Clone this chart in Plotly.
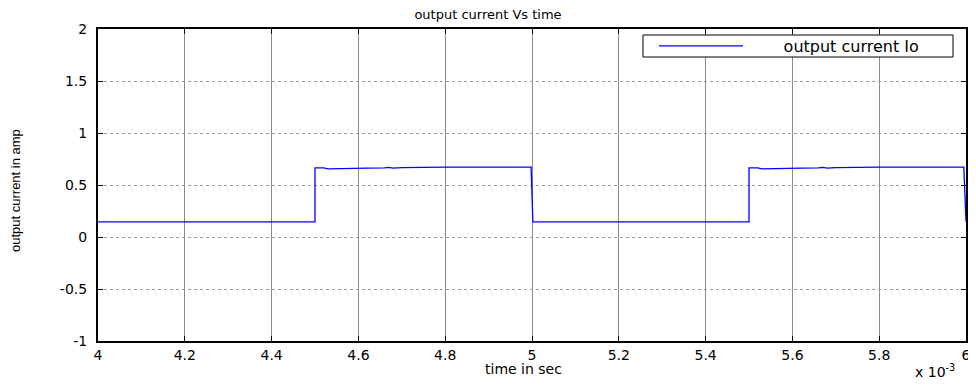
import plotly.graph_objects as go

# time axis values in units of 1e-3 s
time_ms = [4.0, 4.5, 4.5, 4.52, 4.53, 4.6, 4.62, 4.66, 4.67, 4.68, 4.7, 4.8, 4.998, 5.002,
           5.5, 5.5, 5.52, 5.53, 5.6, 5.62, 5.66, 5.67, 5.68, 5.7, 5.8, 5.995, 6.0]
current_amp = [0.145, 0.145, 0.665, 0.665, 0.656, 0.656, 0.662, 0.665, 0.669, 0.663, 0.668, 0.671, 0.671, 0.145,
               0.145, 0.665, 0.665, 0.656, 0.656, 0.662, 0.665, 0.669, 0.663, 0.668, 0.671, 0.671, 0.15]

x_ticks = [4.0, 4.2, 4.4, 4.6, 4.8, 5.0, 5.2, 5.4, 5.6, 5.8, 6.0]
x_tick_labels = ["4", "4.2", "4.4", "4.6", "4.8", "5", "5.2", "5.4", "5.6", "5.8", "6"]
y_ticks = [-1, -0.5, 0, 0.5, 1, 1.5, 2]
y_tick_labels = ["-1", "-0.5", "0", "0.5", "1", "1.5", "2"]

FONT = "DejaVu Sans, Liberation Sans, Arial, sans-serif"
NB = "\u00a0"

# The page body has an 8px margin; the figure is laid out in its own coordinates.
W, H = 976, 385
ML, MT, MR, MB = 90, 21, 18, 52
PW = W - ML - MR
PH = H - MT - MB

def px_x(page_x):
    return (page_x - 8 - ML) / PW

def px_y(page_y):
    return (H - MB - (page_y - 8)) / PH

fig = go.Figure()
fig.add_trace(go.Scatter(
    x=time_ms, y=current_amp, mode="lines",
    line=dict(color="#0000ff", width=1.3),
    name=NB * 7 + "output current Io",
))

fig.update_layout(
    width=W, height=H,
    margin=dict(l=ML, r=MR, t=MT, b=MB, autoexpand=False),
    paper_bgcolor="white", plot_bgcolor="white",
    font=dict(family=FONT, size=14, color="black"),
    title=dict(text="output current Vs time", x=(488 - 8) / W, xref="container", xanchor="center",
               y=1 - (14 - 8) / H, yref="container", yanchor="middle",
               font=dict(family=FONT, size=13, color="black")),
    showlegend=True,
    legend=dict(x=px_x(654), xanchor="left", y=px_y(46), yanchor="middle",
                borderwidth=0, bgcolor="rgba(0,0,0,0)",
                itemwidth=84, font=dict(family=FONT, size=16, color="black")),
    shapes=[dict(type="rect", xref="paper", yref="paper", layer="above",
                 x0=px_x(643), x1=px_x(953), y0=px_y(57), y1=px_y(35),
                 line=dict(color="black", width=1), fillcolor="white")],
)

fig.update_xaxes(
    range=[4, 6], tickvals=x_ticks, ticktext=x_tick_labels,
    showline=True, linecolor="black", linewidth=2, mirror="ticks",
    ticks="inside", ticklen=5, tickcolor="black", tickwidth=1,
    showgrid=True, gridcolor="#8a8a8a", gridwidth=1,
    zeroline=False, automargin=False,
    tickfont=dict(family=FONT, size=14, color="black"),
)
fig.update_yaxes(
    range=[-1, 2], tickvals=y_ticks, ticktext=y_tick_labels,
    showline=True, linecolor="black", linewidth=2, mirror="ticks",
    ticks="inside", ticklen=5, tickcolor="black", tickwidth=1,
    showgrid=True, gridcolor="#9a9a9a", gridwidth=1, griddash="dot",
    zeroline=False, ticklabelstandoff=6, automargin=False,
    tickfont=dict(family=FONT, size=14, color="black"),
)

fig.add_annotation(text="time in sec", xref="paper", yref="paper",
                   x=px_x(523), y=px_y(369),
                   xanchor="center", yanchor="middle", showarrow=False,
                   font=dict(family=FONT, size=14, color="black"))
fig.add_annotation(text="output current in amp", xref="paper", yref="paper",
                   x=px_x(16), y=px_y(191), textangle=-90,
                   xanchor="center", yanchor="middle", showarrow=False,
                   font=dict(family="Liberation Sans Narrow, Arial Narrow, Liberation Sans, sans-serif",
                             size=13, color="black"))
fig.add_annotation(text="x 10<sup>-3</sup>", xref="paper", yref="paper",
                   x=px_x(957), y=px_y(371),
                   xanchor="right", yanchor="middle", showarrow=False,
                   font=dict(family=FONT, size=14, color="black"))

fig.write_html("out.html")
